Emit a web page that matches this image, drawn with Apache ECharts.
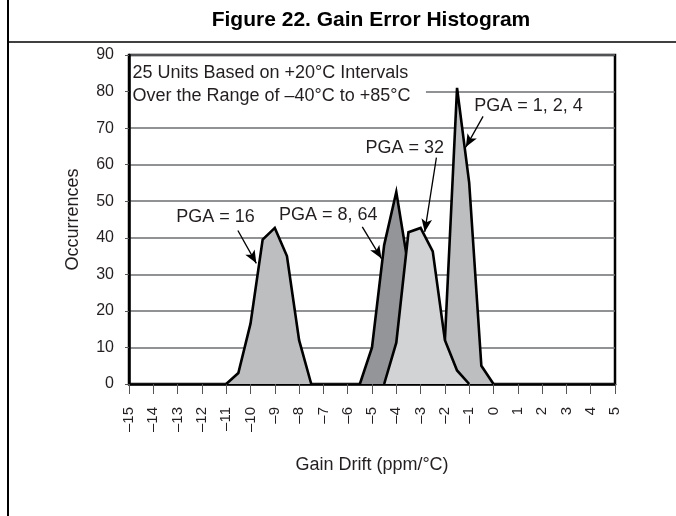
<!DOCTYPE html>
<html>
<head>
<meta charset="utf-8">
<title>Gain Error Histogram</title>
<script src="https://cdn.jsdelivr.net/npm/echarts@6/dist/echarts.min.js"></script>
<style>
  html, body { margin: 0; padding: 0; background: #fff; }
  #main { width: 676px; height: 516px; }
</style>
</head>
<body>
<div id="main"></div>
<script>
// [gain drift (ppm/°C), occurrences]
const pga16 = [[-11, 0], [-10.5, 3], [-10, 16.5], [-9.5, 39.5], [-9, 42.7], [-8.5, 35], [-8, 12], [-7.5, 0]];
const pga8_64 = [[-5.5, 0], [-5, 10], [-4.5, 38], [-4, 52.5], [-3.5, 32], [-3, 10], [-2.5, 0]];
const pga1_2_4 = [[-2.5, 0], [-2, 12], [-1.5, 81], [-1, 55], [-0.5, 5], [0, 0]];
const pga32 = [[-4.5, 0], [-4, 11.3], [-3.5, 41.5], [-3, 42.7], [-2.5, 36.3], [-2, 12], [-1.5, 3.7], [-1, 0]];

// callouts (data coords)
const calloutText = ['PGA = 16', 'PGA = 8, 64', 'PGA = 32', 'PGA = 1, 2, 4'];
const calloutAt = [[-11.44, 45.8], [-6.8, 46.2], [-3.65, 64.6], [1.44, 76]];
const arrowFrom = [[-10.52, 42], [-5.4, 43], [-2.35, 61.9], [-0.43, 73.2]];
const arrowTo = [[-9.76, 33], [-4.61, 34.3], [-2.83, 41.6], [-1.14, 64.8]];
const noteLines = ['25 Units Based on +20°C Intervals', 'Over the Range of –40°C to +85°C'];

const FONT = '"Liberation Sans", Arial, Helvetica, sans-serif';
const chart = echarts.init(document.getElementById('main'));

// z decides which shape sits on top, later series cover earlier ones
function area(name, data, fill, z) {
  return {
    name: name,
    type: 'line',
    z: z,
    data: data,
    symbol: 'none',
    silent: true,
    lineStyle: { color: '#000', width: 2.6, join: 'miter' },
    areaStyle: { color: fill, opacity: 1 },
  };
}

const arrows = arrowFrom.map((p, i) => [
  { coord: p, symbol: 'none' },
  { coord: arrowTo[i], symbol: 'arrow' },
]);

const series = [
  area('PGA = 16', pga16, '#bcbec0', 2),
  area('PGA = 8, 64', pga8_64, '#939598', 3),
  area('PGA = 1, 2, 4', pga1_2_4, '#bcbec0', 4),
  area('PGA = 32', pga32, '#d1d3d4', 5),
];
series[3].markLine = {
  silent: true,
  symbolSize: [8, 13],
  label: { show: false },
  lineStyle: { color: '#000', width: 1.3, type: 'solid' },
  data: arrows,
};

chart.setOption({
  animation: false,
  backgroundColor: '#fff',
  title: {
    text: 'Figure 22. Gain Error Histogram',
    left: 371,
    top: 10,
    padding: 0,
    textAlign: 'center',
    textStyle: { fontFamily: FONT, fontSize: 21, fontWeight: 'bold', color: '#000' },
  },
  grid: {
    left: 129, right: 61, top: 55, bottom: 132,
    show: true, borderColor: '#000', borderWidth: 2.5,
    outerBoundsMode: 'none',
  },
  xAxis: {
    type: 'value',
    min: -15, max: 5, interval: 1,
    name: 'Gain Drift (ppm/°C)',
    nameLocation: 'middle',
    nameGap: 72,
    nameTextStyle: { fontFamily: FONT, fontSize: 18, color: '#231f20' },
    axisLine: { onZero: false, lineStyle: { color: '#000', width: 2.5 } },
    axisTick: { length: 10, lineStyle: { color: '#555', width: 1 } },
    splitLine: { show: false },
    axisLabel: {
      rotate: 90,
      margin: 23,
      fontFamily: FONT, fontSize: 15, color: '#231f20',
      formatter: (v) => String(v).replace('-', '–'),
    },
  },
  yAxis: {
    type: 'value',
    min: 0, max: 90, interval: 10,
    name: 'Occurrences',
    nameLocation: 'middle',
    nameRotate: 90,
    nameGap: 47,
    nameTextStyle: { fontFamily: FONT, fontSize: 18, color: '#231f20' },
    axisLine: { onZero: false, lineStyle: { color: '#000', width: 2.5 } },
    axisTick: { length: 4, lineStyle: { color: '#555', width: 1 } },
    splitLine: { lineStyle: { color: '#6d6e71', width: 1.6 } },
    axisLabel: { margin: 15, fontFamily: FONT, fontSize: 16, color: '#231f20' },
  },
  series: series,
});

// overlay: page frame, note box and callout labels
const px = (p) => chart.convertToPixel({ gridIndex: 0 }, p);
const boxA = px([-15, 90]);
const boxB = px([-2.78, 74.5]);
const graphic = [
  { type: 'line', shape: { x1: 8, y1: 0, x2: 8, y2: 516 }, style: { stroke: '#000', lineWidth: 2 } },
  { type: 'line', shape: { x1: 8, y1: 42, x2: 676, y2: 42 }, style: { stroke: '#000', lineWidth: 1.6 } },
  {
    type: 'rect', z: 50,
    shape: { x: boxA[0] + 2, y: boxA[1] + 2, width: boxB[0] - boxA[0] - 2, height: boxB[1] - boxA[1] - 2 },
    style: { fill: '#fff' },
  },
];
noteLines.forEach((t, i) => {
  const p = px([-14.86, 85.2 - i * 6.4]);
  graphic.push({
    type: 'text', z: 60, x: p[0], y: p[1],
    style: { text: t, font: '18px ' + FONT, fill: '#231f20', textAlign: 'left', textVerticalAlign: 'middle' },
  });
});
calloutText.forEach((t, i) => {
  const p = px(calloutAt[i]);
  graphic.push({
    type: 'text', z: 60, x: p[0], y: p[1],
    style: { text: t, font: '18px ' + FONT, fill: '#231f20', textAlign: 'center', textVerticalAlign: 'middle' },
  });
});
chart.setOption({ graphic: graphic });
</script>
</body>
</html>
